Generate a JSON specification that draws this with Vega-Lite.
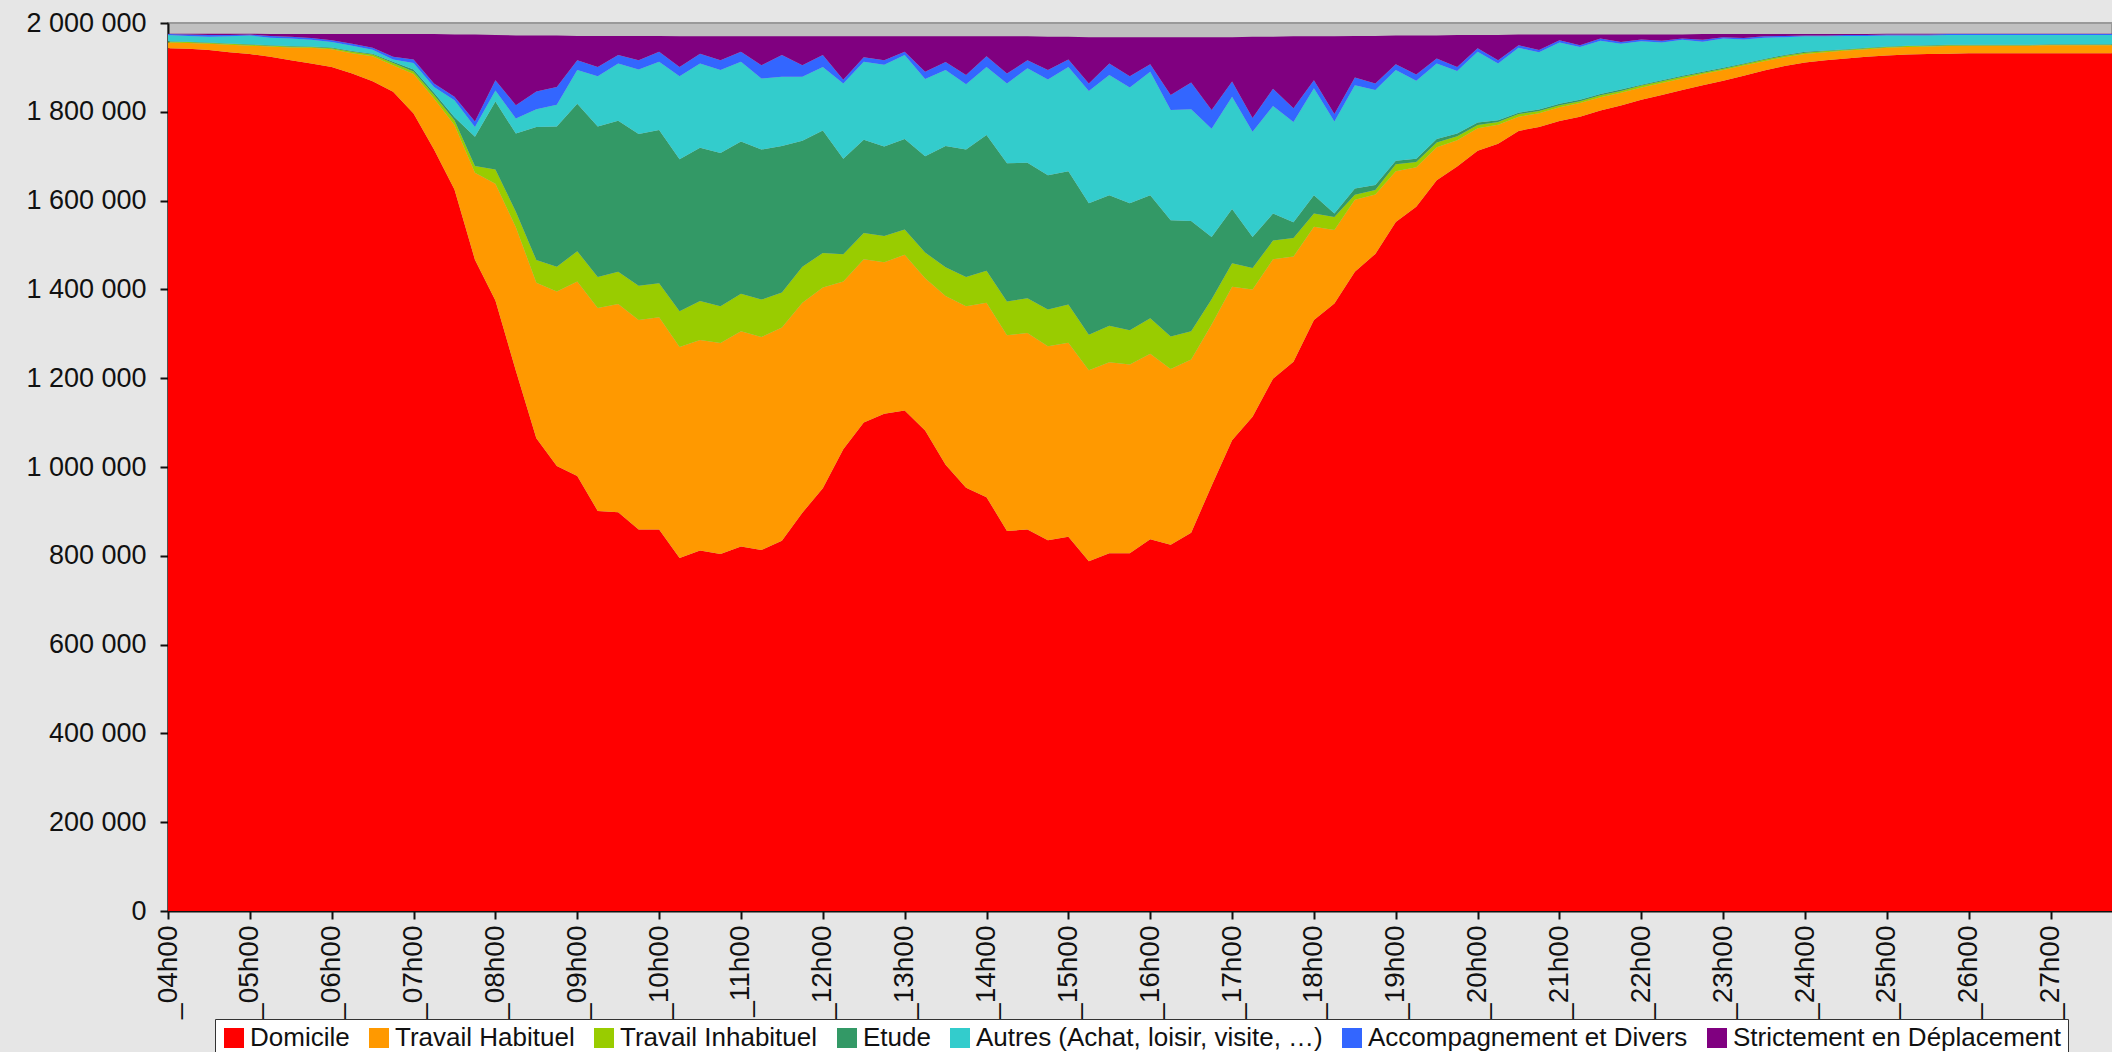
{
"$schema": "https://vega.github.io/schema/vega-lite/v6.json",
"width": 1944, "height": 888,
"autosize": {"type": "none"},
"padding": {"left": 168, "top": 23, "right": 0, "bottom": 141},
"background": "#e6e6e6",
"data": {"values": [
{"h":"_04h00","Domicile":1943000,"Travail Habituel":13000,"Travail Inhabituel":2000,"Etude":1000,"Autres (Achat, loisir, visite, …)":14000,"Accompagnement et Divers":2000,"Strictement en Déplacement":1000},
{"h":"_04h15","Domicile":1942000,"Travail Habituel":13000,"Travail Inhabituel":2000,"Etude":1000,"Autres (Achat, loisir, visite, …)":13000,"Accompagnement et Divers":3000,"Strictement en Déplacement":2000},
{"h":"_04h30","Domicile":1939000,"Travail Habituel":14000,"Travail Inhabituel":2000,"Etude":1000,"Autres (Achat, loisir, visite, …)":13000,"Accompagnement et Divers":4000,"Strictement en Déplacement":3000},
{"h":"_04h45","Domicile":1934000,"Travail Habituel":17000,"Travail Inhabituel":2000,"Etude":1000,"Autres (Achat, loisir, visite, …)":16000,"Accompagnement et Divers":3000,"Strictement en Déplacement":3000},
{"h":"_05h00","Domicile":1930000,"Travail Habituel":19000,"Travail Inhabituel":2000,"Etude":1000,"Autres (Achat, loisir, visite, …)":20000,"Accompagnement et Divers":2000,"Strictement en Déplacement":2000},
{"h":"_05h15","Domicile":1924000,"Travail Habituel":23000,"Travail Inhabituel":2000,"Etude":1000,"Autres (Achat, loisir, visite, …)":17000,"Accompagnement et Divers":4000,"Strictement en Déplacement":4000},
{"h":"_05h30","Domicile":1916000,"Travail Habituel":29000,"Travail Inhabituel":2000,"Etude":1000,"Autres (Achat, loisir, visite, …)":17000,"Accompagnement et Divers":4000,"Strictement en Déplacement":6000},
{"h":"_05h45","Domicile":1909000,"Travail Habituel":35000,"Travail Inhabituel":2000,"Etude":1000,"Autres (Achat, loisir, visite, …)":15000,"Accompagnement et Divers":4000,"Strictement en Déplacement":9000},
{"h":"_06h00","Domicile":1901000,"Travail Habituel":40000,"Travail Inhabituel":2000,"Etude":2000,"Autres (Achat, loisir, visite, …)":12000,"Accompagnement et Divers":4000,"Strictement en Déplacement":14000},
{"h":"_06h15","Domicile":1886000,"Travail Habituel":46000,"Travail Inhabituel":3000,"Etude":2000,"Autres (Achat, loisir, visite, …)":12000,"Accompagnement et Divers":4000,"Strictement en Déplacement":22000},
{"h":"_06h30","Domicile":1869000,"Travail Habituel":56000,"Travail Inhabituel":4000,"Etude":2000,"Autres (Achat, loisir, visite, …)":9000,"Accompagnement et Divers":4000,"Strictement en Déplacement":31000},
{"h":"_06h45","Domicile":1845000,"Travail Habituel":60000,"Travail Inhabituel":5000,"Etude":3000,"Autres (Achat, loisir, visite, …)":5000,"Accompagnement et Divers":6000,"Strictement en Déplacement":51000},
{"h":"_07h00","Domicile":1796000,"Travail Habituel":89000,"Travail Inhabituel":6000,"Etude":4000,"Autres (Achat, loisir, visite, …)":15000,"Accompagnement et Divers":8000,"Strictement en Déplacement":57000},
{"h":"_07h15","Domicile":1715000,"Travail Habituel":115000,"Travail Inhabituel":8000,"Etude":5000,"Autres (Achat, loisir, visite, …)":13000,"Accompagnement et Divers":8000,"Strictement en Déplacement":111000},
{"h":"_07h30","Domicile":1625000,"Travail Habituel":145000,"Travail Inhabituel":11000,"Etude":7000,"Autres (Achat, loisir, visite, …)":38000,"Accompagnement et Divers":8000,"Strictement en Déplacement":140000},
{"h":"_07h45","Domicile":1467000,"Travail Habituel":196000,"Travail Inhabituel":15000,"Etude":66000,"Autres (Achat, loisir, visite, …)":22000,"Accompagnement et Divers":12000,"Strictement en Déplacement":196000},
{"h":"_08h00","Domicile":1375000,"Travail Habituel":263000,"Travail Inhabituel":32000,"Etude":153000,"Autres (Achat, loisir, visite, …)":25000,"Accompagnement et Divers":23000,"Strictement en Déplacement":102000},
{"h":"_08h15","Domicile":1217000,"Travail Habituel":323000,"Travail Inhabituel":35000,"Etude":176000,"Autres (Achat, loisir, visite, …)":34000,"Accompagnement et Divers":30000,"Strictement en Déplacement":157000},
{"h":"_08h30","Domicile":1065000,"Travail Habituel":350000,"Travail Inhabituel":51000,"Etude":300000,"Autres (Achat, loisir, visite, …)":40000,"Accompagnement et Divers":40000,"Strictement en Déplacement":126000},
{"h":"_08h45","Domicile":1002000,"Travail Habituel":393000,"Travail Inhabituel":56000,"Etude":316000,"Autres (Achat, loisir, visite, …)":49000,"Accompagnement et Divers":40000,"Strictement en Déplacement":116000},
{"h":"_09h00","Domicile":980000,"Travail Habituel":438000,"Travail Inhabituel":68000,"Etude":332000,"Autres (Achat, loisir, visite, …)":76000,"Accompagnement et Divers":22000,"Strictement en Déplacement":55000},
{"h":"_09h15","Domicile":901000,"Travail Habituel":457000,"Travail Inhabituel":70000,"Etude":339000,"Autres (Achat, loisir, visite, …)":113000,"Accompagnement et Divers":21000,"Strictement en Déplacement":70000},
{"h":"_09h30","Domicile":898000,"Travail Habituel":469000,"Travail Inhabituel":73000,"Etude":340000,"Autres (Achat, loisir, visite, …)":129000,"Accompagnement et Divers":19000,"Strictement en Déplacement":43000},
{"h":"_09h45","Domicile":859000,"Travail Habituel":472000,"Travail Inhabituel":77000,"Etude":342000,"Autres (Achat, loisir, visite, …)":145000,"Accompagnement et Divers":21000,"Strictement en Déplacement":55000},
{"h":"_10h00","Domicile":859000,"Travail Habituel":478000,"Travail Inhabituel":77000,"Etude":345000,"Autres (Achat, loisir, visite, …)":154000,"Accompagnement et Divers":22000,"Strictement en Déplacement":36000},
{"h":"_10h15","Domicile":795000,"Travail Habituel":475000,"Travail Inhabituel":81000,"Etude":342000,"Autres (Achat, loisir, visite, …)":187000,"Accompagnement et Divers":21000,"Strictement en Déplacement":69000},
{"h":"_10h30","Domicile":812000,"Travail Habituel":474000,"Travail Inhabituel":88000,"Etude":345000,"Autres (Achat, loisir, visite, …)":190000,"Accompagnement et Divers":22000,"Strictement en Déplacement":39000},
{"h":"_10h45","Domicile":804000,"Travail Habituel":475000,"Travail Inhabituel":83000,"Etude":345000,"Autres (Achat, loisir, visite, …)":187000,"Accompagnement et Divers":22000,"Strictement en Déplacement":54000},
{"h":"_11h00","Domicile":821000,"Travail Habituel":485000,"Travail Inhabituel":84000,"Etude":343000,"Autres (Achat, loisir, visite, …)":180000,"Accompagnement et Divers":22000,"Strictement en Déplacement":35000},
{"h":"_11h15","Domicile":813000,"Travail Habituel":480000,"Travail Inhabituel":84000,"Etude":338000,"Autres (Achat, loisir, visite, …)":160000,"Accompagnement et Divers":30000,"Strictement en Déplacement":65000},
{"h":"_11h30","Domicile":834000,"Travail Habituel":480000,"Travail Inhabituel":79000,"Etude":330000,"Autres (Achat, loisir, visite, …)":156000,"Accompagnement et Divers":49000,"Strictement en Déplacement":42000},
{"h":"_11h45","Domicile":897000,"Travail Habituel":473000,"Travail Inhabituel":81000,"Etude":284000,"Autres (Achat, loisir, visite, …)":144000,"Accompagnement et Divers":26000,"Strictement en Déplacement":65000},
{"h":"_12h00","Domicile":952000,"Travail Habituel":452000,"Travail Inhabituel":78000,"Etude":276000,"Autres (Achat, loisir, visite, …)":143000,"Accompagnement et Divers":27000,"Strictement en Déplacement":42000},
{"h":"_12h15","Domicile":1040000,"Travail Habituel":378000,"Travail Inhabituel":61000,"Etude":215000,"Autres (Achat, loisir, visite, …)":170000,"Accompagnement et Divers":8000,"Strictement en Déplacement":98000},
{"h":"_12h30","Domicile":1100000,"Travail Habituel":368000,"Travail Inhabituel":59000,"Etude":210000,"Autres (Achat, loisir, visite, …)":176000,"Accompagnement et Divers":10000,"Strictement en Déplacement":47000},
{"h":"_12h45","Domicile":1120000,"Travail Habituel":341000,"Travail Inhabituel":59000,"Etude":202000,"Autres (Achat, loisir, visite, …)":184000,"Accompagnement et Divers":10000,"Strictement en Déplacement":54000},
{"h":"_13h00","Domicile":1127000,"Travail Habituel":351000,"Travail Inhabituel":57000,"Etude":204000,"Autres (Achat, loisir, visite, …)":189000,"Accompagnement et Divers":7000,"Strictement en Déplacement":35000},
{"h":"_13h15","Domicile":1082000,"Travail Habituel":343000,"Travail Inhabituel":58000,"Etude":217000,"Autres (Achat, loisir, visite, …)":174000,"Accompagnement et Divers":16000,"Strictement en Déplacement":80000},
{"h":"_13h30","Domicile":1005000,"Travail Habituel":380000,"Travail Inhabituel":65000,"Etude":273000,"Autres (Achat, loisir, visite, …)":171000,"Accompagnement et Divers":18000,"Strictement en Déplacement":58000},
{"h":"_13h45","Domicile":953000,"Travail Habituel":409000,"Travail Inhabituel":66000,"Etude":287000,"Autres (Achat, loisir, visite, …)":147000,"Accompagnement et Divers":21000,"Strictement en Déplacement":87000},
{"h":"_14h00","Domicile":932000,"Travail Habituel":438000,"Travail Inhabituel":72000,"Etude":306000,"Autres (Achat, loisir, visite, …)":153000,"Accompagnement et Divers":24000,"Strictement en Déplacement":45000},
{"h":"_14h15","Domicile":856000,"Travail Habituel":441000,"Travail Inhabituel":76000,"Etude":311000,"Autres (Achat, loisir, visite, …)":180000,"Accompagnement et Divers":22000,"Strictement en Déplacement":84000},
{"h":"_14h30","Domicile":859000,"Travail Habituel":443000,"Travail Inhabituel":78000,"Etude":305000,"Autres (Achat, loisir, visite, …)":213000,"Accompagnement et Divers":18000,"Strictement en Déplacement":54000},
{"h":"_14h45","Domicile":835000,"Travail Habituel":437000,"Travail Inhabituel":83000,"Etude":302000,"Autres (Achat, loisir, visite, …)":216000,"Accompagnement et Divers":21000,"Strictement en Déplacement":75000},
{"h":"_15h00","Domicile":843000,"Travail Habituel":437000,"Travail Inhabituel":86000,"Etude":300000,"Autres (Achat, loisir, visite, …)":235000,"Accompagnement et Divers":17000,"Strictement en Déplacement":51000},
{"h":"_15h15","Domicile":788000,"Travail Habituel":430000,"Travail Inhabituel":80000,"Etude":296000,"Autres (Achat, loisir, visite, …)":253000,"Accompagnement et Divers":17000,"Strictement en Déplacement":104000},
{"h":"_15h30","Domicile":806000,"Travail Habituel":430000,"Travail Inhabituel":82000,"Etude":294000,"Autres (Achat, loisir, visite, …)":271000,"Accompagnement et Divers":26000,"Strictement en Déplacement":59000},
{"h":"_15h45","Domicile":806000,"Travail Habituel":425000,"Travail Inhabituel":77000,"Etude":286000,"Autres (Achat, loisir, visite, …)":261000,"Accompagnement et Divers":25000,"Strictement en Déplacement":88000},
{"h":"_16h00","Domicile":837000,"Travail Habituel":418000,"Travail Inhabituel":80000,"Etude":277000,"Autres (Achat, loisir, visite, …)":278000,"Accompagnement et Divers":17000,"Strictement en Déplacement":61000},
{"h":"_16h15","Domicile":825000,"Travail Habituel":396000,"Travail Inhabituel":73000,"Etude":262000,"Autres (Achat, loisir, visite, …)":248000,"Accompagnement et Divers":34000,"Strictement en Déplacement":130000},
{"h":"_16h30","Domicile":852000,"Travail Habituel":390000,"Travail Inhabituel":64000,"Etude":248000,"Autres (Achat, loisir, visite, …)":252000,"Accompagnement et Divers":60000,"Strictement en Déplacement":102000},
{"h":"_16h45","Domicile":958000,"Travail Habituel":363000,"Travail Inhabituel":57000,"Etude":140000,"Autres (Achat, loisir, visite, …)":244000,"Accompagnement et Divers":42000,"Strictement en Déplacement":164000},
{"h":"_17h00","Domicile":1060000,"Travail Habituel":346000,"Travail Inhabituel":53000,"Etude":122000,"Autres (Achat, loisir, visite, …)":253000,"Accompagnement et Divers":34000,"Strictement en Déplacement":100000},
{"h":"_17h15","Domicile":1113000,"Travail Habituel":287000,"Travail Inhabituel":48000,"Etude":70000,"Autres (Achat, loisir, visite, …)":237000,"Accompagnement et Divers":31000,"Strictement en Déplacement":183000},
{"h":"_17h30","Domicile":1199000,"Travail Habituel":269000,"Travail Inhabituel":42000,"Etude":61000,"Autres (Achat, loisir, visite, …)":242000,"Accompagnement et Divers":39000,"Strictement en Déplacement":117000},
{"h":"_17h45","Domicile":1237000,"Travail Habituel":237000,"Travail Inhabituel":42000,"Etude":35000,"Autres (Achat, loisir, visite, …)":226000,"Accompagnement et Divers":31000,"Strictement en Déplacement":162000},
{"h":"_18h00","Domicile":1331000,"Travail Habituel":210000,"Travail Inhabituel":30000,"Etude":41000,"Autres (Achat, loisir, visite, …)":241000,"Accompagnement et Divers":18000,"Strictement en Déplacement":99000},
{"h":"_18h15","Domicile":1368000,"Travail Habituel":166000,"Travail Inhabituel":29000,"Etude":8000,"Autres (Achat, loisir, visite, …)":207000,"Accompagnement et Divers":17000,"Strictement en Déplacement":175000},
{"h":"_18h30","Domicile":1440000,"Travail Habituel":162000,"Travail Inhabituel":11000,"Etude":14000,"Autres (Achat, loisir, visite, …)":233000,"Accompagnement et Divers":17000,"Strictement en Déplacement":94000},
{"h":"_18h45","Domicile":1480000,"Travail Habituel":134000,"Travail Inhabituel":10000,"Etude":11000,"Autres (Achat, loisir, visite, …)":214000,"Accompagnement et Divers":15000,"Strictement en Déplacement":107000},
{"h":"_19h00","Domicile":1552000,"Travail Habituel":114000,"Travail Inhabituel":16000,"Etude":8000,"Autres (Achat, loisir, visite, …)":204000,"Accompagnement et Divers":13000,"Strictement en Déplacement":65000},
{"h":"_19h15","Domicile":1586000,"Travail Habituel":89000,"Travail Inhabituel":12000,"Etude":7000,"Autres (Achat, loisir, visite, …)":176000,"Accompagnement et Divers":14000,"Strictement en Déplacement":88000},
{"h":"_19h30","Domicile":1646000,"Travail Habituel":74000,"Travail Inhabituel":11000,"Etude":8000,"Autres (Achat, loisir, visite, …)":170000,"Accompagnement et Divers":11000,"Strictement en Déplacement":52000},
{"h":"_19h45","Domicile":1677000,"Travail Habituel":59000,"Travail Inhabituel":9000,"Etude":6000,"Autres (Achat, loisir, visite, …)":141000,"Accompagnement et Divers":9000,"Strictement en Déplacement":72000},
{"h":"_20h00","Domicile":1712000,"Travail Habituel":51000,"Travail Inhabituel":7000,"Etude":6000,"Autres (Achat, loisir, visite, …)":159000,"Accompagnement et Divers":8000,"Strictement en Déplacement":30000},
{"h":"_20h15","Domicile":1728000,"Travail Habituel":43000,"Travail Inhabituel":6000,"Etude":4000,"Autres (Achat, loisir, visite, …)":128000,"Accompagnement et Divers":7000,"Strictement en Déplacement":57000},
{"h":"_20h30","Domicile":1757000,"Travail Habituel":32000,"Travail Inhabituel":6000,"Etude":3000,"Autres (Achat, loisir, visite, …)":146000,"Accompagnement et Divers":6000,"Strictement en Déplacement":24000},
{"h":"_20h45","Domicile":1766000,"Travail Habituel":31000,"Travail Inhabituel":5000,"Etude":3000,"Autres (Achat, loisir, visite, …)":129000,"Accompagnement et Divers":5000,"Strictement en Déplacement":35000},
{"h":"_21h00","Domicile":1779000,"Travail Habituel":31000,"Travail Inhabituel":5000,"Etude":3000,"Autres (Achat, loisir, visite, …)":138000,"Accompagnement et Divers":5000,"Strictement en Déplacement":13000},
{"h":"_21h15","Domicile":1789000,"Travail Habituel":31000,"Travail Inhabituel":4000,"Etude":3000,"Autres (Achat, loisir, visite, …)":119000,"Accompagnement et Divers":4000,"Strictement en Déplacement":24000},
{"h":"_21h30","Domicile":1803000,"Travail Habituel":30000,"Travail Inhabituel":4000,"Etude":3000,"Autres (Achat, loisir, visite, …)":120000,"Accompagnement et Divers":5000,"Strictement en Déplacement":9000},
{"h":"_21h45","Domicile":1814000,"Travail Habituel":29000,"Travail Inhabituel":4000,"Etude":3000,"Autres (Achat, loisir, visite, …)":103000,"Accompagnement et Divers":4000,"Strictement en Déplacement":17000},
{"h":"_22h00","Domicile":1827000,"Travail Habituel":28000,"Travail Inhabituel":4000,"Etude":2000,"Autres (Achat, loisir, visite, …)":98000,"Accompagnement et Divers":4000,"Strictement en Déplacement":11000},
{"h":"_22h15","Domicile":1838000,"Travail Habituel":27000,"Travail Inhabituel":4000,"Etude":2000,"Autres (Achat, loisir, visite, …)":85000,"Accompagnement et Divers":4000,"Strictement en Déplacement":14000},
{"h":"_22h30","Domicile":1849000,"Travail Habituel":26000,"Travail Inhabituel":4000,"Etude":2000,"Autres (Achat, loisir, visite, …)":81000,"Accompagnement et Divers":3000,"Strictement en Déplacement":9000},
{"h":"_22h45","Domicile":1860000,"Travail Habituel":25000,"Travail Inhabituel":3000,"Etude":2000,"Autres (Achat, loisir, visite, …)":68000,"Accompagnement et Divers":4000,"Strictement en Déplacement":13000},
{"h":"_23h00","Domicile":1870000,"Travail Habituel":24000,"Travail Inhabituel":3000,"Etude":2000,"Autres (Achat, loisir, visite, …)":66000,"Accompagnement et Divers":3000,"Strictement en Déplacement":7000},
{"h":"_23h15","Domicile":1881000,"Travail Habituel":23000,"Travail Inhabituel":3000,"Etude":2000,"Autres (Achat, loisir, visite, …)":54000,"Accompagnement et Divers":3000,"Strictement en Déplacement":9000},
{"h":"_23h30","Domicile":1893000,"Travail Habituel":21000,"Travail Inhabituel":3000,"Etude":2000,"Autres (Achat, loisir, visite, …)":48000,"Accompagnement et Divers":3000,"Strictement en Déplacement":5000},
{"h":"_23h45","Domicile":1903000,"Travail Habituel":20000,"Travail Inhabituel":3000,"Etude":2000,"Autres (Achat, loisir, visite, …)":40000,"Accompagnement et Divers":3000,"Strictement en Déplacement":4000},
{"h":"_24h00","Domicile":1911000,"Travail Habituel":19000,"Travail Inhabituel":3000,"Etude":2000,"Autres (Achat, loisir, visite, …)":35000,"Accompagnement et Divers":2000,"Strictement en Déplacement":3000},
{"h":"_24h15","Domicile":1916000,"Travail Habituel":18000,"Travail Inhabituel":3000,"Etude":1000,"Autres (Achat, loisir, visite, …)":32000,"Accompagnement et Divers":2000,"Strictement en Déplacement":3000},
{"h":"_24h30","Domicile":1920000,"Travail Habituel":18000,"Travail Inhabituel":2000,"Etude":1000,"Autres (Achat, loisir, visite, …)":30000,"Accompagnement et Divers":2000,"Strictement en Déplacement":2000},
{"h":"_24h45","Domicile":1924000,"Travail Habituel":17000,"Travail Inhabituel":2000,"Etude":1000,"Autres (Achat, loisir, visite, …)":27000,"Accompagnement et Divers":2000,"Strictement en Déplacement":2000},
{"h":"_25h00","Domicile":1927000,"Travail Habituel":17000,"Travail Inhabituel":2000,"Etude":1000,"Autres (Achat, loisir, visite, …)":25000,"Accompagnement et Divers":2000,"Strictement en Déplacement":2000},
{"h":"_25h15","Domicile":1929000,"Travail Habituel":17000,"Travail Inhabituel":2000,"Etude":1000,"Autres (Achat, loisir, visite, …)":23000,"Accompagnement et Divers":2000,"Strictement en Déplacement":2000},
{"h":"_25h30","Domicile":1930000,"Travail Habituel":17000,"Travail Inhabituel":2000,"Etude":1000,"Autres (Achat, loisir, visite, …)":22000,"Accompagnement et Divers":2000,"Strictement en Déplacement":2000},
{"h":"_25h45","Domicile":1931000,"Travail Habituel":17000,"Travail Inhabituel":2000,"Etude":1000,"Autres (Achat, loisir, visite, …)":22000,"Accompagnement et Divers":2000,"Strictement en Déplacement":1000},
{"h":"_26h00","Domicile":1932000,"Travail Habituel":17000,"Travail Inhabituel":1000,"Etude":1000,"Autres (Achat, loisir, visite, …)":22000,"Accompagnement et Divers":2000,"Strictement en Déplacement":1000},
{"h":"_26h15","Domicile":1932000,"Travail Habituel":17000,"Travail Inhabituel":1000,"Etude":1000,"Autres (Achat, loisir, visite, …)":22000,"Accompagnement et Divers":2000,"Strictement en Déplacement":1000},
{"h":"_26h30","Domicile":1932000,"Travail Habituel":17000,"Travail Inhabituel":1000,"Etude":1000,"Autres (Achat, loisir, visite, …)":22000,"Accompagnement et Divers":2000,"Strictement en Déplacement":1000},
{"h":"_26h45","Domicile":1932000,"Travail Habituel":17000,"Travail Inhabituel":1000,"Etude":1000,"Autres (Achat, loisir, visite, …)":22000,"Accompagnement et Divers":2000,"Strictement en Déplacement":1000},
{"h":"_27h00","Domicile":1932000,"Travail Habituel":18000,"Travail Inhabituel":1000,"Etude":1000,"Autres (Achat, loisir, visite, …)":21000,"Accompagnement et Divers":2000,"Strictement en Déplacement":1000},
{"h":"_27h15","Domicile":1932000,"Travail Habituel":18000,"Travail Inhabituel":1000,"Etude":1000,"Autres (Achat, loisir, visite, …)":21000,"Accompagnement et Divers":2000,"Strictement en Déplacement":1000},
{"h":"_27h30","Domicile":1932000,"Travail Habituel":18000,"Travail Inhabituel":1000,"Etude":1000,"Autres (Achat, loisir, visite, …)":21000,"Accompagnement et Divers":2000,"Strictement en Déplacement":1000},
{"h":"_27h45","Domicile":1932000,"Travail Habituel":18000,"Travail Inhabituel":1000,"Etude":1000,"Autres (Achat, loisir, visite, …)":21000,"Accompagnement et Divers":2000,"Strictement en Déplacement":1000}
]},
"transform": [
{"fold": ["Domicile","Travail Habituel","Travail Inhabituel","Etude","Autres (Achat, loisir, visite, …)","Accompagnement et Divers","Strictement en Déplacement"], "as": ["motif","valeur"]},
{"calculate": "indexof(['Domicile','Travail Habituel','Travail Inhabituel','Etude','Autres (Achat, loisir, visite, …)','Accompagnement et Divers','Strictement en Déplacement'], datum.motif)", "as": "rang"}
],
"mark": {"type": "area", "interpolate": "linear", "opacity": 1},
"encoding": {
"x": {"field": "h", "type": "ordinal", "scale": {"type": "point", "padding": 0},
 "axis": {"title": null, "values": ["_04h00","_05h00","_06h00","_07h00","_08h00","_09h00","_10h00","_11h00","_12h00","_13h00","_14h00","_15h00","_16h00","_17h00","_18h00","_19h00","_20h00","_21h00","_22h00","_23h00","_24h00","_25h00","_26h00","_27h00"],
  "labelAngle": -90, "labelFontSize": 28, "labelFont": "Liberation Sans", "labelColor": "#111111", "labelPadding": 6,
  "tickSize": 8, "tickColor": "#111111", "tickWidth": 2, "domainColor": "#111111", "domainWidth": 2, "grid": false, "labelOverlap": false}},
"y": {"field": "valeur", "type": "quantitative", "stack": "zero", "scale": {"domain": [0, 2000000], "nice": false},
 "axis": {"title": null, "values": [0,200000,400000,600000,800000,1000000,1200000,1400000,1600000,1800000,2000000], "format": ",d",
  "labelFontSize": 27, "labelFont": "Liberation Sans", "labelColor": "#111111", "labelPadding": 14,
  "tickSize": 8, "tickColor": "#111111", "tickWidth": 2, "domainColor": "#111111", "domainWidth": 2, "grid": false, "labelOverlap": false}},
"color": {"field": "motif", "type": "nominal",
 "scale": {"domain": ["Domicile","Travail Habituel","Travail Inhabituel","Etude","Autres (Achat, loisir, visite, …)","Accompagnement et Divers","Strictement en Déplacement"],
  "range": ["#ff0000","#ff9900","#99cc00","#339966","#33cccc","#3366ff","#800080"]},
 "legend": {"title": null, "orient": "none", "legendX": 47, "legendY": 996, "direction": "horizontal", "columns": 7,
  "symbolType": "square", "symbolSize": 400, "symbolStrokeWidth": 0, "symbolOpacity": 1,
  "labelFontSize": 26, "labelFont": "Liberation Sans", "labelColor": "#111111", "labelOffset": 3, "labelLimit": 0,
  "columnPadding": 16, "padding": 6, "fillColor": "#ffffff", "strokeColor": "#333333"}},
"order": {"field": "rang", "type": "quantitative", "sort": "ascending"}
},
"config": {
"view": {"fill": "#c0c0c0", "stroke": "#999999", "strokeWidth": 2},
"locale": {"number": {"decimal": ",", "thousands": " ", "grouping": [3], "currency": ["", " €"]}}
}
}
